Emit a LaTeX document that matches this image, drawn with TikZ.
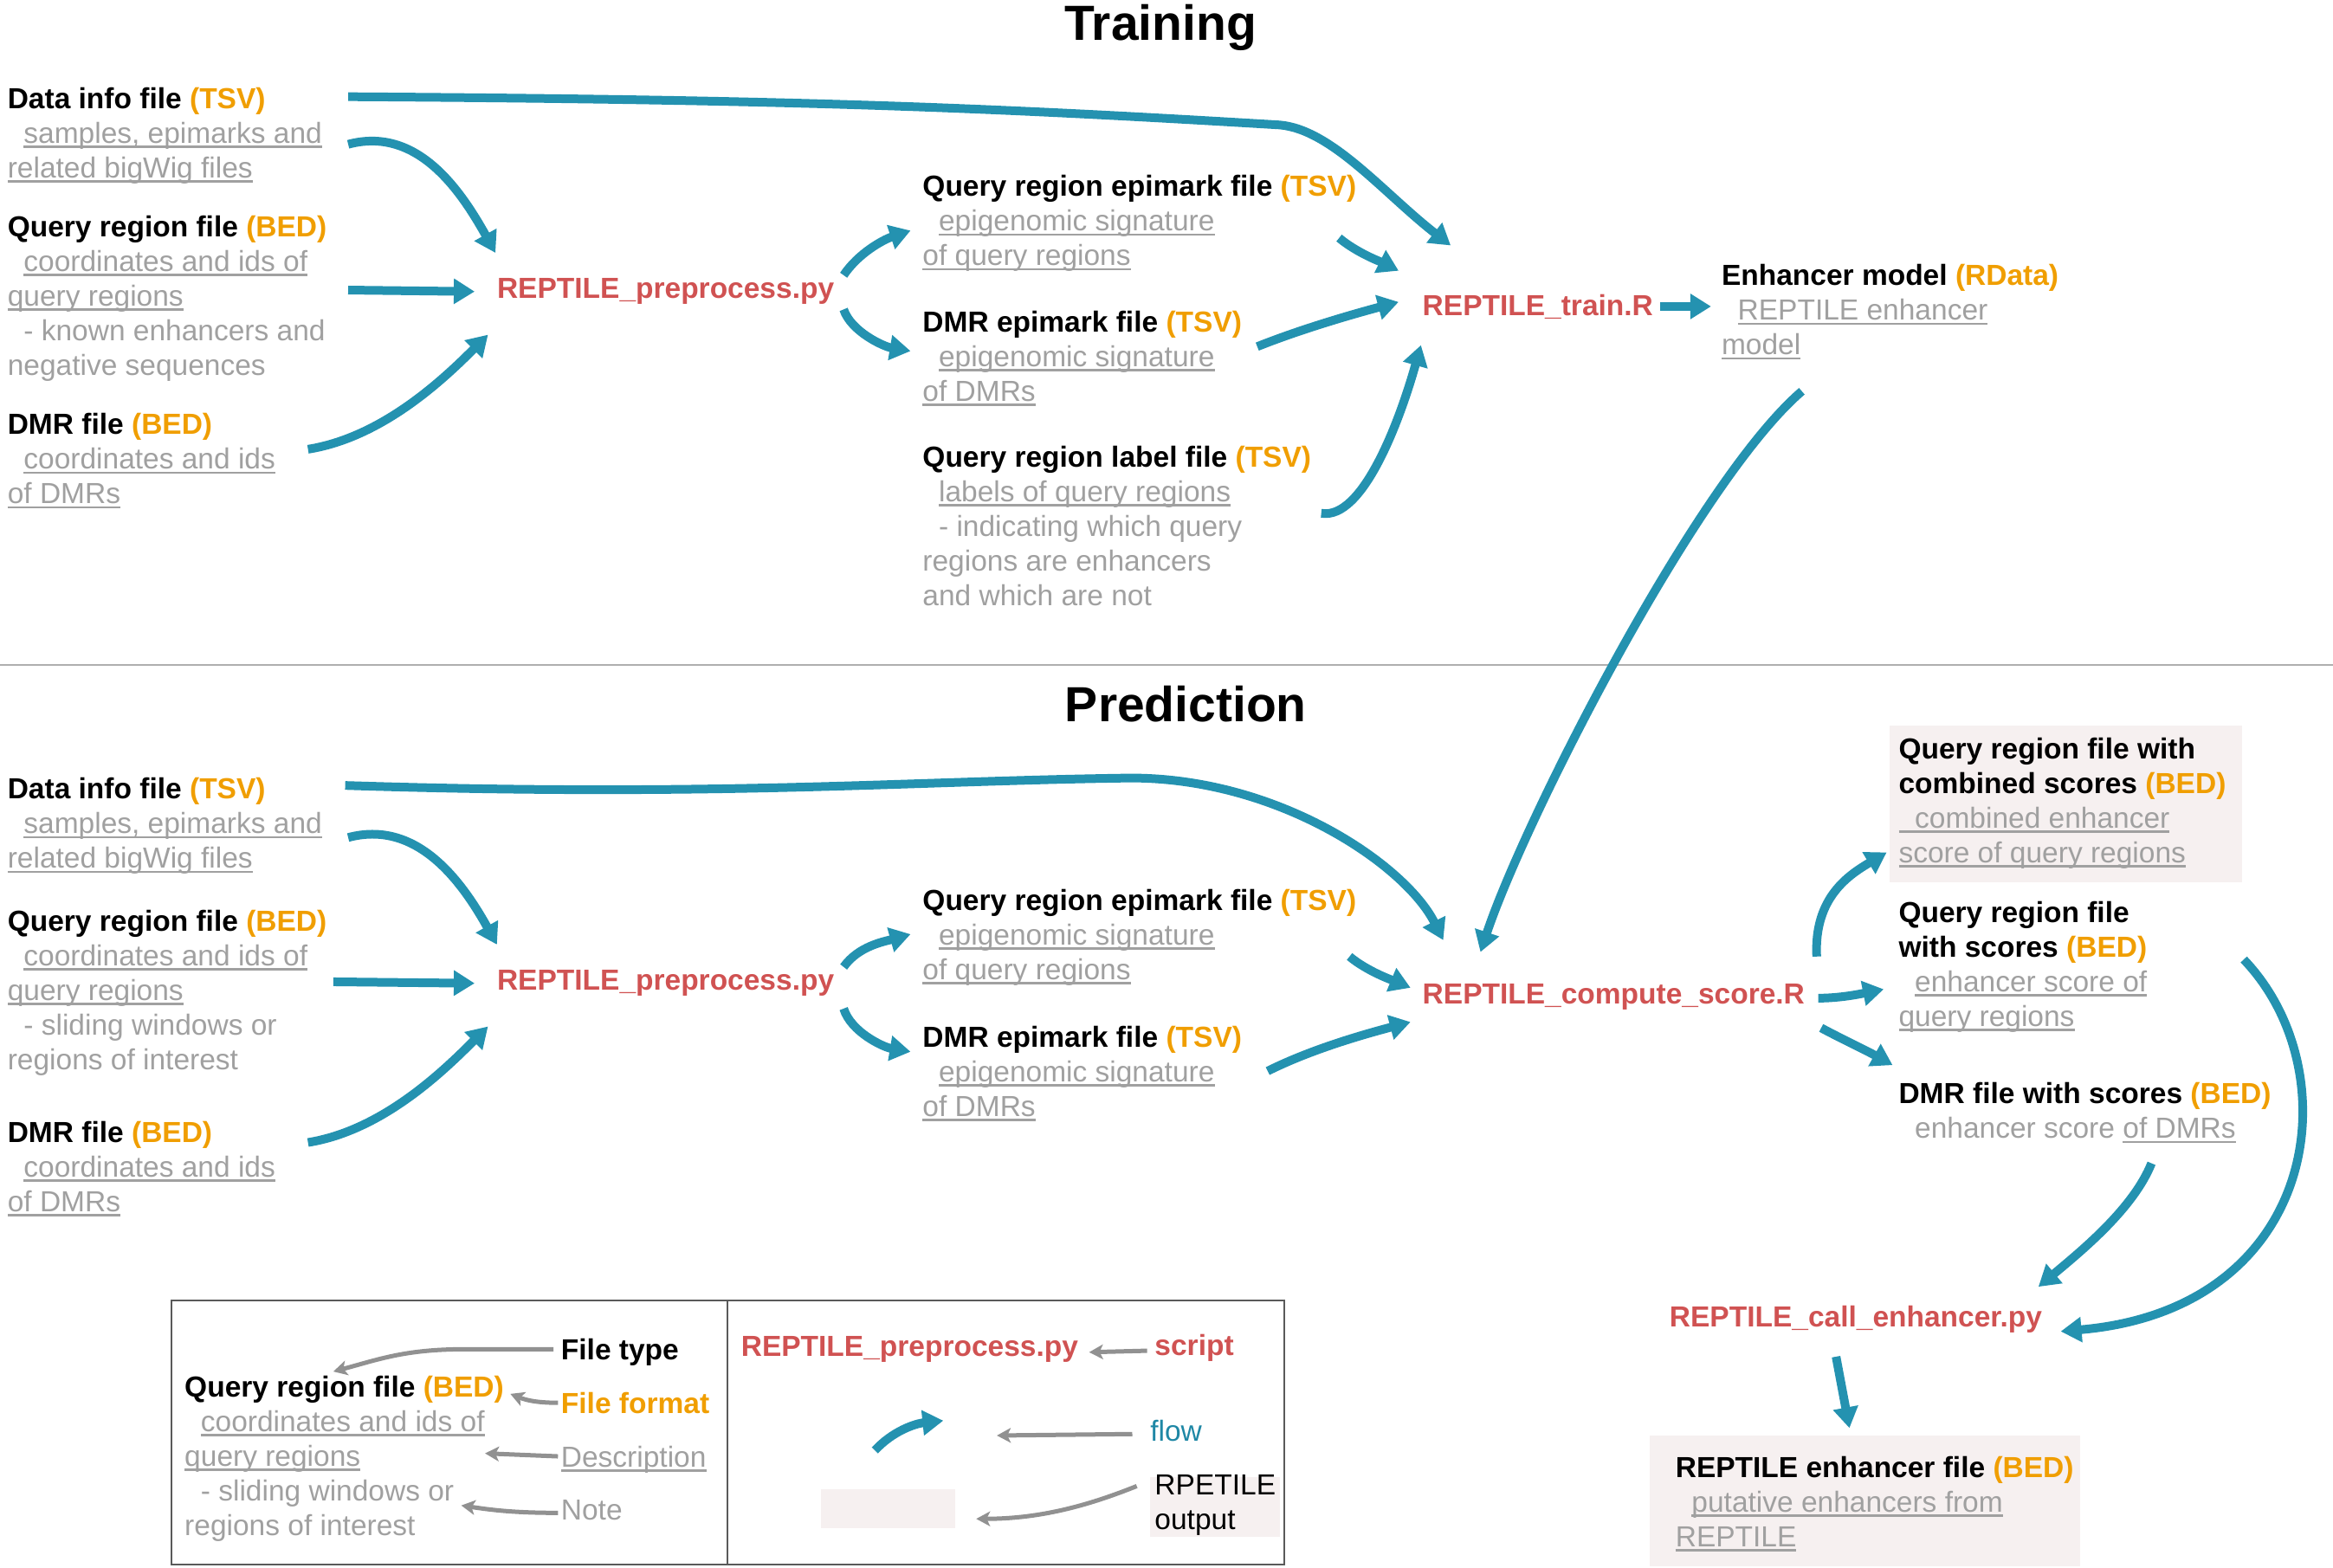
\documentclass[tikz,border=0pt]{standalone}
\usepackage{fontspec}
\setmainfont{Liberation Sans}
\usetikzlibrary{arrows.meta,calc}
\definecolor{flowblue}{RGB}{36,146,176}
\definecolor{scriptred}{RGB}{208,82,82}
\definecolor{fmt}{RGB}{240,158,0}
\definecolor{descgray}{RGB}{160,160,160}
\definecolor{legarrowc}{RGB}{145,145,145}
\definecolor{outbg}{RGB}{246,240,240}
\definecolor{sepgray}{RGB}{175,175,175}
\definecolor{framegray}{RGB}{90,90,90}
\definecolor{flowtext}{RGB}{30,135,165}
\newcommand\fs{\fontsize{33.5pt}{40pt}\selectfont}
\newcommand\ftitle[2]{\textcolor{black}{\bfseries #1 \textcolor{fmt}{(#2)}}}
\newcommand\ind{\hphantom{n}}
\newcommand\myul[1]{\leavevmode\setbox0\hbox{#1}\rlap{\rule[-5.5pt]{\wd0}{2.6pt}}\box0}
\newcommand\blk[1]{\begin{tabular}[t]{@{}l@{}}#1\end{tabular}}
\tikzset{
  flowarrow/.style={draw=flowblue, line width=10pt, -{Triangle[length=24pt,width=28pt]}},
  legarr/.style={draw=legarrowc, line width=5pt, -{Stealth[length=16pt,width=17pt,inset=4pt]}},
  txt/.style={anchor=base west, inner sep=0pt, font=\fs},
  desc/.style={txt, text=descgray},
  script/.style={anchor=west, inner sep=0pt, font=\fs\bfseries, text=scriptred},
  heading/.style={anchor=base, inner sep=0pt, font=\fontsize{57pt}{60pt}\selectfont\bfseries},
}
\begin{document}
\begin{tikzpicture}[x=1.71811pt,y=-1.71811pt]
\useasboundingbox (0,0) rectangle (1568,1054.06);

% background boxes
\fill[outbg] (1270,488) rectangle (1507,593);
\fill[outbg] (1109,965) rectangle (1398,1053);
\fill[outbg] (773,993) rectangle (860,1033);

% titles and separator
\node[heading] (ttitle) at (780,27) {Training};
\node[heading] (ptitle) at (797,485) {Prediction};
\draw[sepgray, line width=2pt] (0,447) -- (1568,447);

% ---------------- Training ----------------
\node[desc] (tdi) at (5,73) {\blk{\ftitle{Data info file}{TSV}\\ \ind\myul{samples, epimarks and}\\ \myul{related bigWig files}}};
\node[desc] (tqr) at (5,159) {\blk{\ftitle{Query region file}{BED}\\ \ind\myul{coordinates and ids of}\\ \myul{query regions}\\ \ind- known enhancers and\\ negative sequences}};
\node[desc] (tdmr) at (5,292) {\blk{\ftitle{DMR file}{BED}\\ \ind\myul{coordinates and ids}\\ \myul{of DMRs}}};
\node[script] (tprep) at (334,196) {REPTILE\_preprocess.py};
\node[desc] (tqe) at (620,132) {\blk{\ftitle{Query region epimark file}{TSV}\\ \ind\myul{epigenomic signature}\\ \myul{of query regions}}};
\node[desc] (tde) at (620,223) {\blk{\ftitle{DMR epimark file}{TSV}\\ \ind\myul{epigenomic signature}\\ \myul{of DMRs}}};
\node[desc] (tlab) at (620,314) {\blk{\ftitle{Query region label file}{TSV}\\ \ind\myul{labels of query regions}\\ \ind- indicating which query\\ regions are enhancers\\ and which are not}};
\node[script] (ttrain) at (956,206) {REPTILE\_train.R};
\node[desc] (tmodel) at (1157,192) {\blk{\ftitle{Enhancer model}{RData}\\ \ind\myul{REPTILE enhancer}\\ \myul{model}}};

\draw[flowarrow] ($(tdi.base west)+(229,-8)$) .. controls +(300,2) and +(-200,-12) .. ($(ttrain.west)+(-96,-122)$) .. controls +(35,3) and +(-45,-35) .. ($(ttrain.west)+(19,-41)$);
\draw[flowarrow] ($(tdi.base west)+(229,24)$) .. controls +(45,-12) and +(-25,-45) .. ($(tprep.west)+(-1,-26)$);
\draw[flowarrow] ($(tqr.base west)+(229,36)$) -- ($(tprep.west)+(-15,0)$);
\draw[flowarrow] ($(tdmr.base west)+(202,10)$) .. controls +(50,-8) and +(-30,30) .. ($(tprep.west)+(-6,29)$);
\draw[flowarrow] ($(tprep.west)+(233,-11)$) .. controls +(10,-15) and +(-18,6) .. ($(tqe.base west)+(-8,23)$);
\draw[flowarrow] ($(tprep.west)+(233,12)$) .. controls +(5,15) and +(-18,-3) .. ($(tde.base west)+(-8,13)$);
\draw[flowarrow] ($(tqe.base west)+(280,28)$) .. controls +(12,10) and +(-12,-6) .. ($(ttrain.west)+(-16,-24)$);
\draw[flowarrow] ($(tde.base west)+(225,10)$) .. controls +(30,-12) and +(-30,8) .. ($(ttrain.west)+(-16,-3)$);
\draw[flowarrow] ($(tlab.base west)+(268,31)$) .. controls +(28,5) and +(-14,50) .. ($(ttrain.west)+(-1,26)$);
\draw[flowarrow] ($(ttrain.west)+(160,0)$) -- ($(tmodel.base west)+(-7,14)$);

% ---------------- Prediction ----------------
\node[desc] (pdi) at (5,537) {\blk{\ftitle{Data info file}{TSV}\\ \ind\myul{samples, epimarks and}\\ \myul{related bigWig files}}};
\node[desc] (pqr) at (5,626) {\blk{\ftitle{Query region file}{BED}\\ \ind\myul{coordinates and ids of}\\ \myul{query regions}\\ \ind- sliding windows or\\ regions of interest}};
\node[desc] (pdmr) at (5,768) {\blk{\ftitle{DMR file}{BED}\\ \ind\myul{coordinates and ids}\\ \myul{of DMRs}}};
\node[script] (pprep) at (334,661) {REPTILE\_preprocess.py};
\node[desc] (pqe) at (620,612) {\blk{\ftitle{Query region epimark file}{TSV}\\ \ind\myul{epigenomic signature}\\ \myul{of query regions}}};
\node[desc] (pde) at (620,704) {\blk{\ftitle{DMR epimark file}{TSV}\\ \ind\myul{epigenomic signature}\\ \myul{of DMRs}}};
\node[script] (pcomp) at (956,670) {REPTILE\_compute\_score.R};
\node[desc] (pcomb) at (1276,510) {\blk{\textcolor{black}{\bfseries Query region file with}\\ \ftitle{combined scores}{BED}\\ \myul{\ind combined enhancer}\\ \myul{score of query regions}}};
\node[desc] (pqs) at (1276,620) {\blk{\textcolor{black}{\bfseries Query region file}\\ \ftitle{with scores}{BED}\\ \ind\myul{enhancer score of}\\ \myul{query regions}}};
\node[desc] (pdmrs) at (1276,742) {\blk{\ftitle{DMR file with scores}{BED}\\ \ind enhancer score \myul{of DMRs}}};
\node[script] (pcall) at (1122,887) {REPTILE\_call\_enhancer.py};
\node[desc] (penh) at (1126,993) {\blk{\ftitle{REPTILE enhancer file}{BED}\\ \ind\myul{putative enhancers from}\\ \myul{REPTILE}}};

\draw[flowarrow] ($(pdi.base west)+(227,-9)$) .. controls +(250,8) and +(-150,2) .. ($(pcomp.west)+(-196,-147)$) .. controls +(100,0) and +(-25,-50) .. ($(pcomp.west)+(14,-38)$);
\draw[flowarrow] ($(pdi.base west)+(229,26)$) .. controls +(45,-12) and +(-25,-45) .. ($(pprep.west)+(0,-26)$);
\draw[flowarrow] ($(pqr.base west)+(219,34)$) -- ($(pprep.west)+(-15,0)$);
\draw[flowarrow] ($(pdmr.base west)+(202,0)$) .. controls +(50,-8) and +(-30,30) .. ($(pprep.west)+(-6,29)$);
\draw[flowarrow] ($(pprep.west)+(233,-11)$) .. controls +(10,-14) and +(-18,5) .. ($(pqe.base west)+(-8,16)$);
\draw[flowarrow] ($(pprep.west)+(233,17)$) .. controls +(5,16) and +(-18,-3) .. ($(pde.base west)+(-8,3)$);
\draw[flowarrow] ($(pqe.base west)+(287,31)$) .. controls +(12,10) and +(-12,-5) .. ($(pcomp.west)+(-8,-6)$);
\draw[flowarrow] ($(pde.base west)+(232,16)$) .. controls +(30,-15) and +(-30,8) .. ($(pcomp.west)+(-8,17)$);
\draw[flowarrow] ($(tmodel.base west)+(54,71)$) .. controls +(-70,60) and +(30,-90) .. ($(pcomp.west)+(39,-30)$);
\draw[flowarrow] ($(pcomp.west)+(265,-27)$) .. controls +(-2,-40) and +(-25,15) .. ($(pcomb.base west)+(-8,63)$);
\draw[flowarrow] ($(pcomp.west)+(266,1)$) .. controls +(15,0) and +(-15,3) .. ($(pqs.base west)+(-10,45)$);
\draw[flowarrow] ($(pcomp.west)+(268,21)$) .. controls +(15,8) and +(-18,-10) .. ($(pdmrs.base west)+(-4,-26)$);
\draw[flowarrow] ($(pdmrs.base west)+(170,40)$) .. controls +(-12,30) and +(30,-25) .. ($(pcall.west)+(248,-22)$);
\draw[flowarrow] ($(pqs.base west)+(232,25)$) .. controls +(72,75) and +(175,-15) .. ($(pcall.west)+(263,8)$);
\draw[flowarrow] ($(pcall.west)+(112,25)$) -- ($(penh.base west)+(117,-33)$);

% ---------------- Legend ----------------
\draw[framegray, line width=2pt] (115,874) rectangle (863,1052);
\draw[framegray, line width=2pt] (489,874) -- (489,1052);
\node[txt] (lft) at (377,914) {\bfseries File type};
\node[desc] (lqr) at (124,939) {\blk{\ftitle{Query region file}{BED}\\ \ind\myul{coordinates and ids of}\\ \myul{query regions}\\ \ind- sliding windows or\\ regions of interest}};
\node[txt, text=fmt] (lff) at (377,950) {\bfseries File format};
\node[desc] (ldesc) at (377,986) {\myul{Description}};
\node[desc] (lnote) at (377,1022) {Note};
\node[script] (lscriptex) at (498,907) {REPTILE\_preprocess.py};
\node[txt, text=scriptred] (lscript) at (776,911) {\bfseries script};
\node[txt, text=flowtext] (lflow) at (773,969) {flow};
\node[txt] (lout) at (776,1005) {\blk{RPETILE\\output}};
\node[fill=outbg, minimum width=154.6pt, minimum height=44.7pt, inner sep=0pt] (lsample) at (597,1014) {};
\coordinate (lfa) at (588,975);
\coordinate (lfb) at (634,955);
\draw[flowarrow] (lfa) .. controls +(12,-13) and +(-19,2) .. (lfb);

\draw[legarr] ($(lft.base west)+(-5,-7)$) -- ++(-60,0) .. controls +(-40,0) and +(30,-8) .. ($(lqr.base west)+(100,-17)$);
\draw[legarr] ($(lff.base west)+(-2,-7)$) .. controls +(-15,0) and +(10,4) .. ($(lqr.base west)+(219,-2)$);
\draw[legarr] ($(ldesc.base west)+(-2,-7)$) -- ($(lqr.base west)+(202,38)$);
\draw[legarr] ($(lnote.base west)+(-2,-5)$) .. controls +(-30,0) and +(20,3) .. ($(lqr.base west)+(186,73)$);
\draw[legarr] ($(lscript.base west)+(-5,-3)$) -- ($(lscriptex.west)+(234,2)$);
\draw[legarr] ($(lflow.base west)+(-12,-5)$) -- ($(lfb)+(36,10)$);
\draw[legarr] ($(lout.base west)+(-12,-6)$) .. controls +(-30,12) and +(45,0) .. ($(lsample.east)+(14,7)$);
\end{tikzpicture}
\end{document}
